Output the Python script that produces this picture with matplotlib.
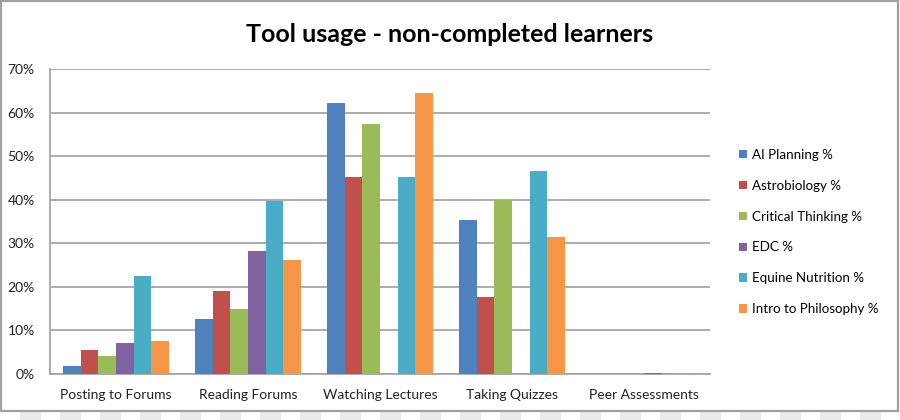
import matplotlib
matplotlib.use("Agg")
import matplotlib.pyplot as plt
import numpy as np
from matplotlib.patches import Rectangle

plt.rcParams['font.family'] = ['Lato', 'DejaVu Sans']

# Datos (fracciones)
categorias = ["Posting to Forums", "Reading Forums", "Watching Lectures",
              "Taking Quizzes", "Peer Assessments"]
ai_planning = [0.019, 0.126, 0.622, 0.353, 0.0]
astrobiology = [0.056, 0.190, 0.452, 0.177, 0.0]
critical_thinking = [0.041, 0.149, 0.573, 0.399, 0.0]
edc = [0.071, 0.282, 0.001, 0.0, 0.003]
equine_nutrition = [0.224, 0.397, 0.452, 0.466, 0.0]
intro_philosophy = [0.076, 0.261, 0.644, 0.314, 0.002]

series = ["AI Planning %", "Astrobiology %", "Critical Thinking %",
          "EDC %", "Equine Nutrition %", "Intro to Philosophy %"]
valores = [ai_planning, astrobiology, critical_thinking, edc,
           equine_nutrition, intro_philosophy]
colores = ["#4F81BD", "#C0504D", "#9BBB59", "#8064A2", "#4BACC6", "#F79646"]
yticks = [0, 0.1, 0.2, 0.3, 0.4, 0.5, 0.6, 0.7]
ytick_labels = ["0%", "10%", "20%", "30%", "40%", "50%", "60%", "70%"]

fig = plt.figure(figsize=(9, 4.2), dpi=100)
fig.patch.set_facecolor("white")

# Fondo tipo tablero en la franja inferior
for x0 in range(20, 900, 40):
    fig.patches.append(Rectangle((x0 / 900, 0), 20 / 900, 9 / 420,
                                 transform=fig.transFigure, color="#ebebeb",
                                 zorder=0))
# Marco del gráfico
fig.patches.append(Rectangle((1 / 900, 9.5 / 420), 897 / 900, 409.5 / 420,
                             transform=fig.transFigure, fill=False,
                             edgecolor="#a0a0a0", linewidth=1.6, zorder=1))

ax = fig.add_axes([50 / 900, 1 - 374 / 420, 660 / 900, 305 / 420])
x = np.arange(len(categorias))
ancho = 0.134
for i, (nombre, vals, col) in enumerate(zip(series, valores, colores)):
    ax.bar(x + (i - 2.5) * ancho, vals, width=ancho, color=col, label=nombre,
           zorder=3)

ax.set_xlim(-0.5, len(categorias) - 0.5)
ax.set_ylim(0, 0.7)
ax.set_yticks(yticks)
ax.set_yticklabels(ytick_labels)
ax.set_xticks(x)
ax.set_xticklabels(categorias)
ax.tick_params(axis="both", length=0, labelsize=10, colors="#222222")
ax.tick_params(axis="y", pad=11)
ax.tick_params(axis="x", pad=11)
ax.grid(axis="y", color="#a6a6a6", linewidth=1.3, zorder=0)
for s in ["top", "right"]:
    ax.spines[s].set_visible(False)
for s in ["left", "bottom"]:
    ax.spines[s].set_color("#a6a6a6")
    ax.spines[s].set_linewidth(1.3)

fig.text(0.5, 1 - 35 / 420, "Tool usage - non-completed learners",
         ha="center", va="center", fontsize=18, fontweight="bold")

fig.legend(loc="center left", bbox_to_anchor=(727 / 900, 1 - 232 / 420),
           frameon=False, fontsize=9.6, handlelength=0.6, handleheight=0.6,
           handletextpad=0.4, labelspacing=1.42)

fig.savefig("out.png", dpi=100, facecolor="white")
